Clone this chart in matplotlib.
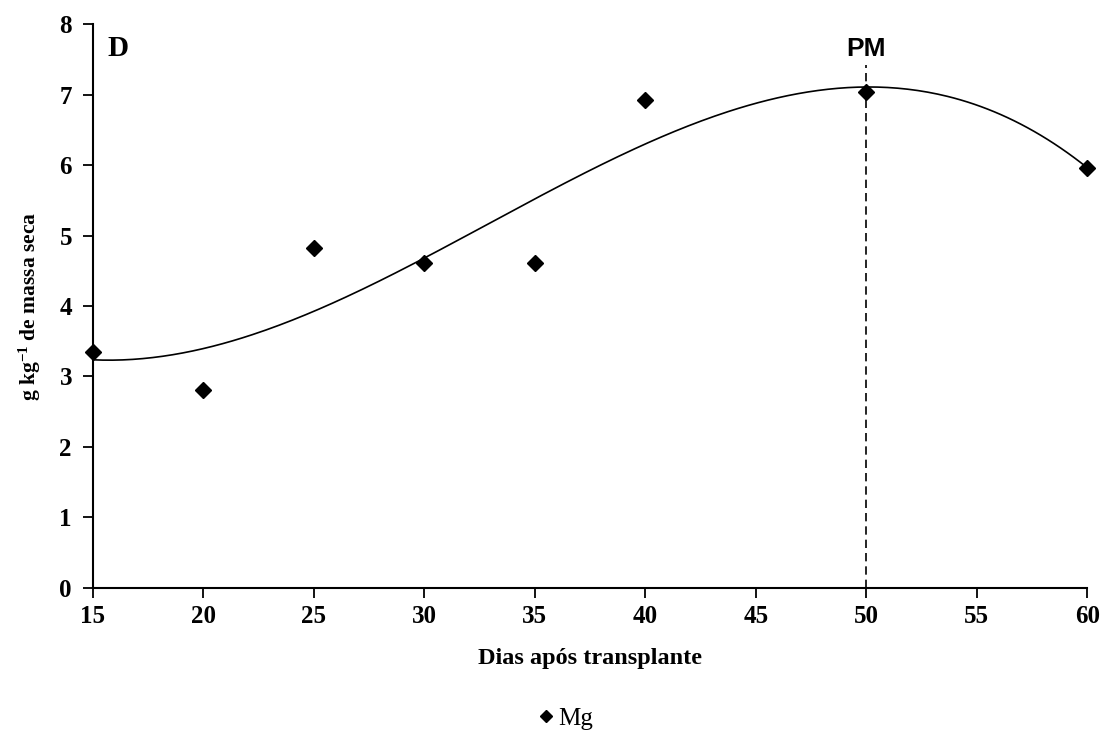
import numpy as np
from matplotlib import pyplot as plt

plt.rcParams['font.family'] = 'Liberation Serif'
plt.rcParams['mathtext.fontset'] = 'custom'
plt.rcParams['mathtext.rm'] = 'Liberation Serif:bold'
plt.rcParams['mathtext.it'] = 'Liberation Serif:bold'
plt.rcParams['mathtext.bf'] = 'Liberation Serif:bold'

dias = np.array([15, 20, 25, 30, 35, 40, 50, 60])
mg = np.array([3.35, 2.81, 4.82, 4.61, 4.61, 6.93, 7.04, 5.96])
pm_dia = 50

# cubic trend line fitted to the points
coef = np.polyfit(dias, mg, 3)
xfit = np.linspace(15, 60, 300)
yfit = np.polyval(coef, xfit)

fig = plt.figure(figsize=(11.05, 7.33), dpi=100)
ax = fig.add_axes([0.084, 0.198, 0.9, 0.769])

ax.plot(xfit, yfit, color='black', lw=1.2)
ax.plot(dias, mg, 'kD', ms=8, clip_on=False, label='Mg')
ax.plot([pm_dia, pm_dia], [0, 7.42], color='black', ls=(0, (5, 3)), lw=1.2)
ax.text(pm_dia, 7.55, 'PM', family='Liberation Sans', weight='bold',
        fontsize=19, ha='center', va='baseline')
ax.text(15.65, 7.66, 'D', weight='bold', fontsize=21, va='center')

ax.set_xlim(15, 60)
ax.set_ylim(0, 8)
ax.set_xticks(np.arange(15, 61, 5))
ax.set_yticks(np.arange(0, 9, 1))
ax.spines['top'].set_visible(False)
ax.spines['right'].set_visible(False)
for s in ('left', 'bottom'):
    ax.spines[s].set_linewidth(1.5)
ax.tick_params(direction='out', length=7, width=1.3, labelsize=18)
ax.tick_params(axis='y', pad=8)
ax.tick_params(axis='x', pad=5)
for lab in ax.get_xticklabels() + ax.get_yticklabels():
    lab.set_fontweight('bold')

ax.set_xlabel('Dias após transplante', fontsize=17.5, weight='bold', labelpad=15)
ax.set_ylabel(r'g kg$^{-1}$ de massa seca', fontsize=15.5, weight='bold', labelpad=12)

fig.legend(loc='center', bbox_to_anchor=(0.51, 0.02), frameon=False,
           fontsize=18, handletextpad=0.0, handlelength=1.0, markerscale=0.8)

fig.savefig('out.png')
